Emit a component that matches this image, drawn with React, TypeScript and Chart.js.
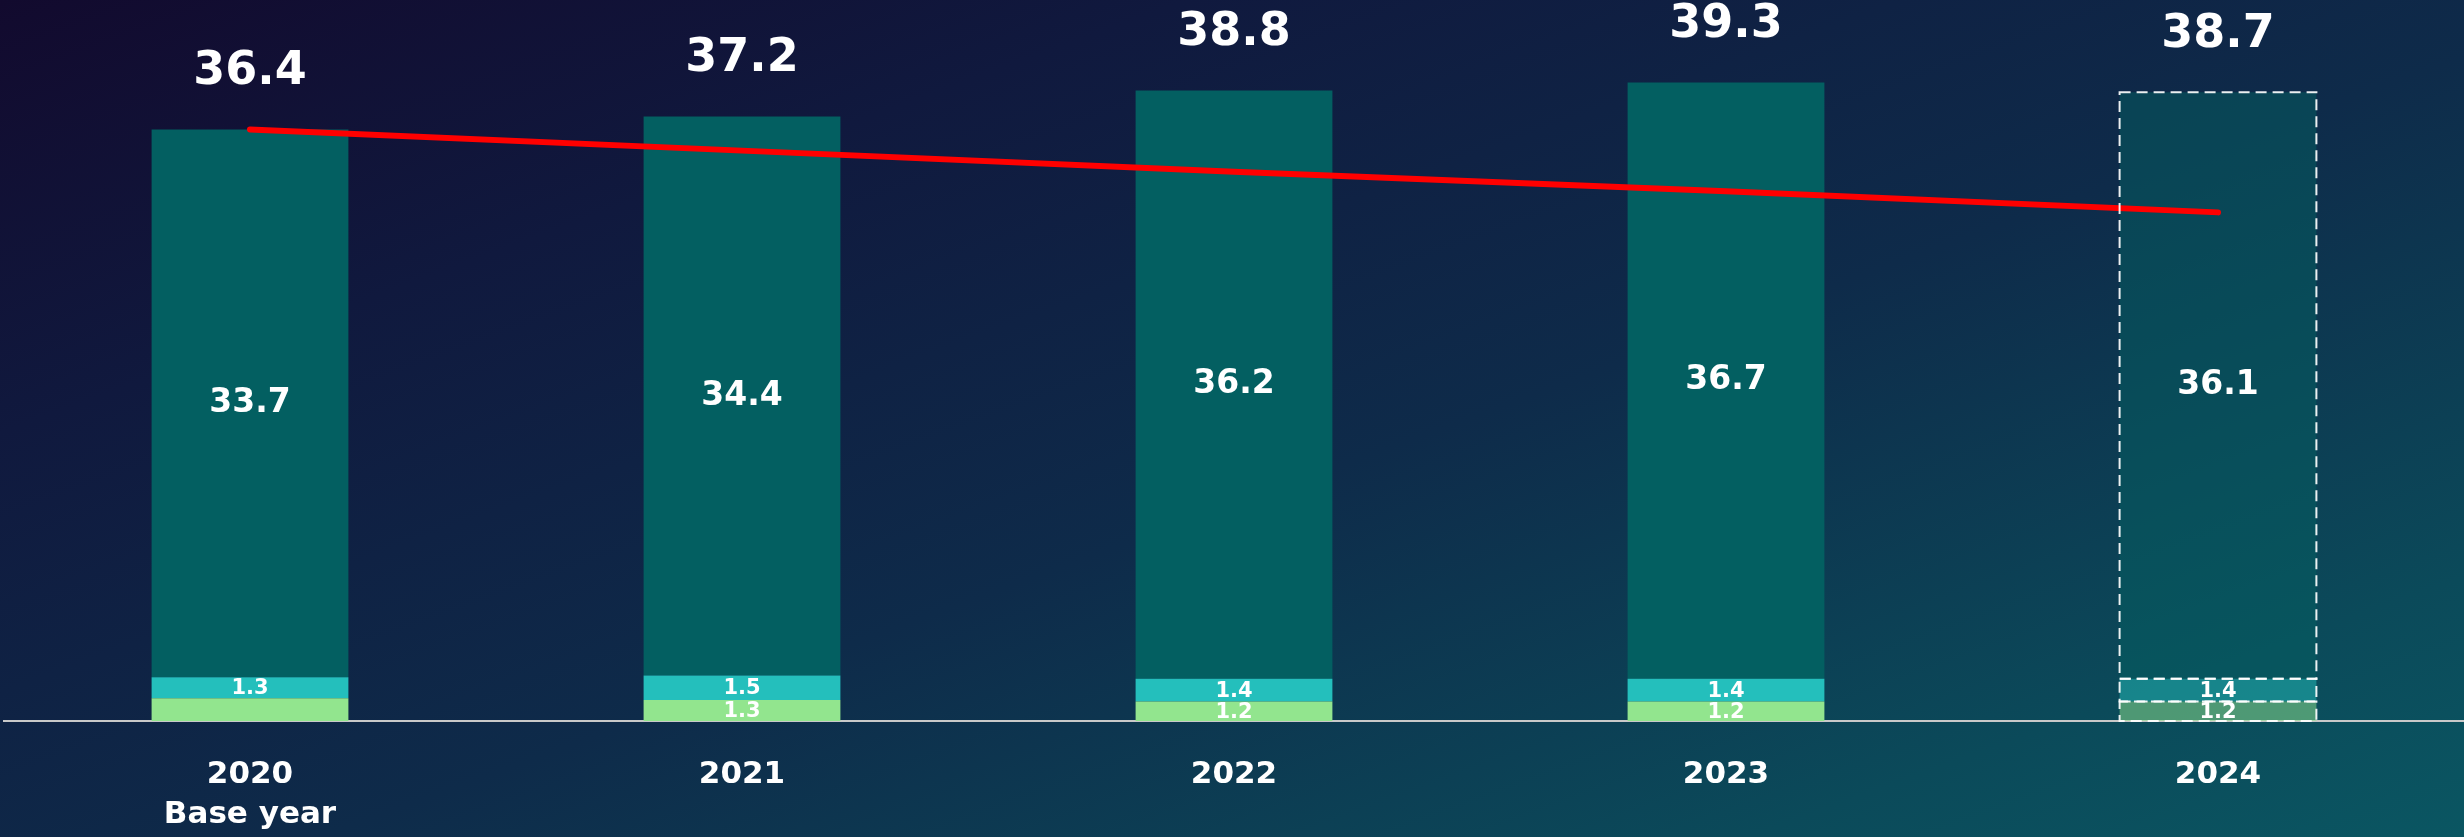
import React, { useEffect, useRef } from "react";
import { Chart, registerables } from "chart.js";

Chart.register(...registerables);

const years = [["2020", "Base year"], ["2021"], ["2022"], ["2023"], ["2024"]];
const greenValues = [1.4, 1.3, 1.2, 1.2, 1.2];
const cyanValues = [1.3, 1.5, 1.4, 1.4, 1.4];
const darkValues = [33.7, 34.4, 36.2, 36.7, 36.1];
const totals = ["36.4", "37.2", "38.8", "39.3", "38.7"];
const targetLine = [36.4, 35.1, 33.8, 32.6, 31.3];
const hiddenGreenLabels = [0];
const estimateIndex = 4;

const FONT = "'DejaVu Sans', 'Noto Sans', sans-serif";

function withAlpha(base: string, idx: number) {
  return idx === estimateIndex ? base.replace("1)", "0.5)") : base;
}

const labelsPlugin = {
  id: "customLabels",
  afterDatasetsDraw(chart: any) {
    const ctx = chart.ctx;
    ctx.save();
    ctx.fillStyle = "#ffffff";
    ctx.textAlign = "center";
    ctx.textBaseline = "middle";
    const metaGreen = chart.getDatasetMeta(0);
    const metaCyan = chart.getDatasetMeta(1);
    const metaDark = chart.getDatasetMeta(2);

    // dashed outlines for the estimate year
    [metaGreen, metaCyan, metaDark].forEach((meta: any) => {
      const el = meta.data[estimateIndex];
      if (!el) return;
      const left = el.x - el.width / 2;
      const top = Math.min(el.y, el.base);
      const h = Math.abs(el.base - el.y);
      ctx.save();
      ctx.setLineDash([11, 6]);
      ctx.lineWidth = 2;
      ctx.strokeStyle = "rgba(255,255,255,0.92)";
      ctx.strokeRect(left, top, el.width, h);
      ctx.restore();
    });

    ctx.font = `bold 21px ${FONT}`;
    metaGreen.data.forEach((el: any, i: number) => {
      if (hiddenGreenLabels.includes(i)) return;
      ctx.fillText(String(greenValues[i]), el.x, (el.y + el.base) / 2 + 1);
    });
    metaCyan.data.forEach((el: any, i: number) => {
      ctx.fillText(String(cyanValues[i]), el.x, (el.y + el.base) / 2 + 1);
    });
    ctx.font = `bold 33px ${FONT}`;
    metaDark.data.forEach((el: any, i: number) => {
      ctx.fillText(String(darkValues[i]), el.x, (el.y + el.base) / 2);
    });
    ctx.font = `bold 46px ${FONT}`;
    metaDark.data.forEach((el: any, i: number) => {
      ctx.fillText(totals[i], el.x, el.y - 57);
    });
    ctx.restore();
  },
};

export default function App() {
  const canvasRef = useRef<HTMLCanvasElement | null>(null);

  useEffect(() => {
    document.body.style.margin = "0";
    const canvas = canvasRef.current;
    if (!canvas) return;
    const chart = new Chart(canvas, {
      type: "bar",
      data: {
        labels: years,
        datasets: [
          {
            type: "bar",
            label: "Green",
            data: greenValues,
            backgroundColor: greenValues.map((_, i) => withAlpha("rgba(146,229,142,1)", i)),
            borderWidth: 0,
            order: 1,
          },
          {
            type: "bar",
            label: "Cyan",
            data: cyanValues,
            backgroundColor: cyanValues.map((_, i) => withAlpha("rgba(36,191,188,1)", i)),
            borderWidth: 0,
            order: 1,
          },
          {
            type: "bar",
            label: "Dark",
            data: darkValues,
            backgroundColor: darkValues.map((_, i) => withAlpha("rgba(3,95,97,1)", i)),
            borderWidth: 0,
            order: 1,
          },
          {
            type: "line",
            label: "Target",
            data: targetLine,
            stack: "line",
            borderColor: "#ff0000",
            borderWidth: 6,
            borderCapStyle: "round",
            pointRadius: 0,
            tension: 0,
            order: 0,
          } as any,
        ],
      },
      options: {
        animation: false,
        responsive: false,
        maintainAspectRatio: false,
        layout: { padding: { top: 6, left: 4, right: 0, bottom: 0 } },
        plugins: {
          legend: { display: false },
          tooltip: { enabled: false },
          title: { display: false },
        },
        datasets: {
          bar: { categoryPercentage: 1, barPercentage: 0.4 },
        },
        scales: {
          x: {
            stacked: true,
            grid: { display: false, drawTicks: false },
            border: { display: true, color: "#c9c9c9", width: 2 },
            afterFit(scale: any) {
              scale.height = 116;
            },
            ticks: {
              color: "#ffffff",
              padding: 33,
              font: { family: FONT, size: 31, weight: "bold", lineHeight: 1.32 },
              maxRotation: 0,
              autoSkip: false,
            },
          },
          y: {
            stacked: true,
            display: false,
            min: 0,
            max: 44,
          },
        },
      },
      plugins: [labelsPlugin],
    });
    return () => chart.destroy();
  }, []);

  return (
    <div
      style={{
        position: "fixed",
        left: 0,
        top: 0,
        width: 2464,
        height: 837,
        background:
          "linear-gradient(160deg, #120a2e 0%, #10193e 25%, #0e2b4a 55%, #0b4a5a 85%, #0a5662 100%)",
      }}
    >
      <canvas ref={canvasRef} width={2464} height={837} style={{ display: "block" }} />
    </div>
  );
}
